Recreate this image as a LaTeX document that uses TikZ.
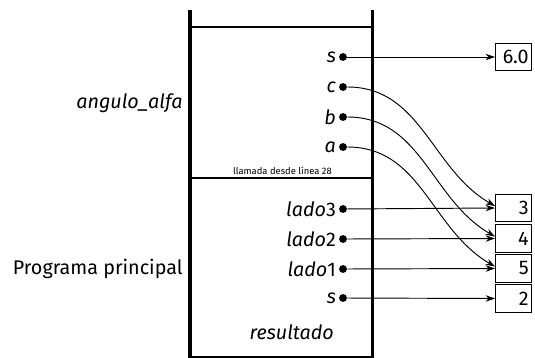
\documentclass[tikz,border=0pt]{standalone}
\usepackage{fontspec}
\setmainfont{Fira Sans}
\usetikzlibrary{positioning,arrows.meta}
\tikzset{
  wall/.style={line width=1.6pt, draw=black},
  dot/.style={circle, fill=black, inner sep=0pt, minimum size=4.2pt},
  var/.style={left=0.3pt of #1, inner sep=1pt},
  val/.style={draw=black, line width=0.45pt, anchor=west, inner xsep=1.5pt, inner ysep=0pt,
    minimum height=5.2mm, text width=5.7mm, align=right},
  ptr/.style={line width=0.5pt, -{Stealth[length=5pt,width=3.4pt]}}
}

\begin{document}
\begin{tikzpicture}[x=0.187mm,y=-0.187mm,font=\fontsize{10.5}{12}\selectfont]
    \useasboundingbox (0,0) rectangle (535,358);

    % marco de la pila
    \draw[wall] (190,10) -- (190,358);
    \draw[wall] (372,10) -- (372,358);
    \draw[line width=1.1pt] (190,27) -- (372,27);
    \draw[line width=0.7pt] (190,178) -- (372,178);
    \draw[line width=1.1pt] (190,357) -- (372,357);
    \node[anchor=south east, inner sep=1pt, font=\fontsize{5}{6}\selectfont]
      at (334,177) {llamada desde línea 28};

    \node[anchor=east, inner sep=0pt] (nA) at (183,103) {\textit{angulo\_alfa}};
    \node[anchor=east, inner sep=0pt] (nP) at (183,269) {Programa principal};

    % variables
    \node[dot] (s1) at (343,57) {};
    \node[dot] (c) at (343,87) {};
    \node[dot] (b) at (343,117) {};
    \node[dot] (a) at (343,147) {};
    \node[dot] (l3) at (343,209) {};
    \node[dot] (l2) at (343,239) {};
    \node[dot] (l1) at (343,269) {};
    \node[dot] (s2) at (343,298) {};

    \node[var=s1] {\textit{s}};
    \node[var=c] {\textit{c}};
    \node[var=b] {\textit{b}};
    \node[var=a] {\textit{a}};
    \node[var=l3] {\textit{lado}3};
    \node[var=l2] {\textit{lado}2};
    \node[var=l1] {\textit{lado}1};
    \node[var=s2] {\textit{s}};
    \node[anchor=east, inner sep=1pt] (res) at (336,332) {\textit{resultado}};

    % valores
    \node[val] (v0) at (495,57) {6.0};
    \node[val] (v3) at (495,208) {3};
    \node[val] (v4) at (495,238.5) {4};
    \node[val] (v5) at (495,268.5) {5};
    \node[val] (v2) at (495,298.5) {2};

    \draw[ptr] (s1) -- (v0);
    \draw[ptr] (l3) -- (v3.west);
    \draw[ptr] (l2) -- (v4.west);
    \draw[ptr] (l1) -- (v5.west);
    \draw[ptr] (s2) -- (v2.west);
    \draw[ptr] (c) to[out=0, in=150] (v3.174);
    \draw[ptr] (b) to[out=0, in=150] (v4.174);
    \draw[ptr] (a) to[out=0, in=150] (v5.174);
\end{tikzpicture}
\end{document}
